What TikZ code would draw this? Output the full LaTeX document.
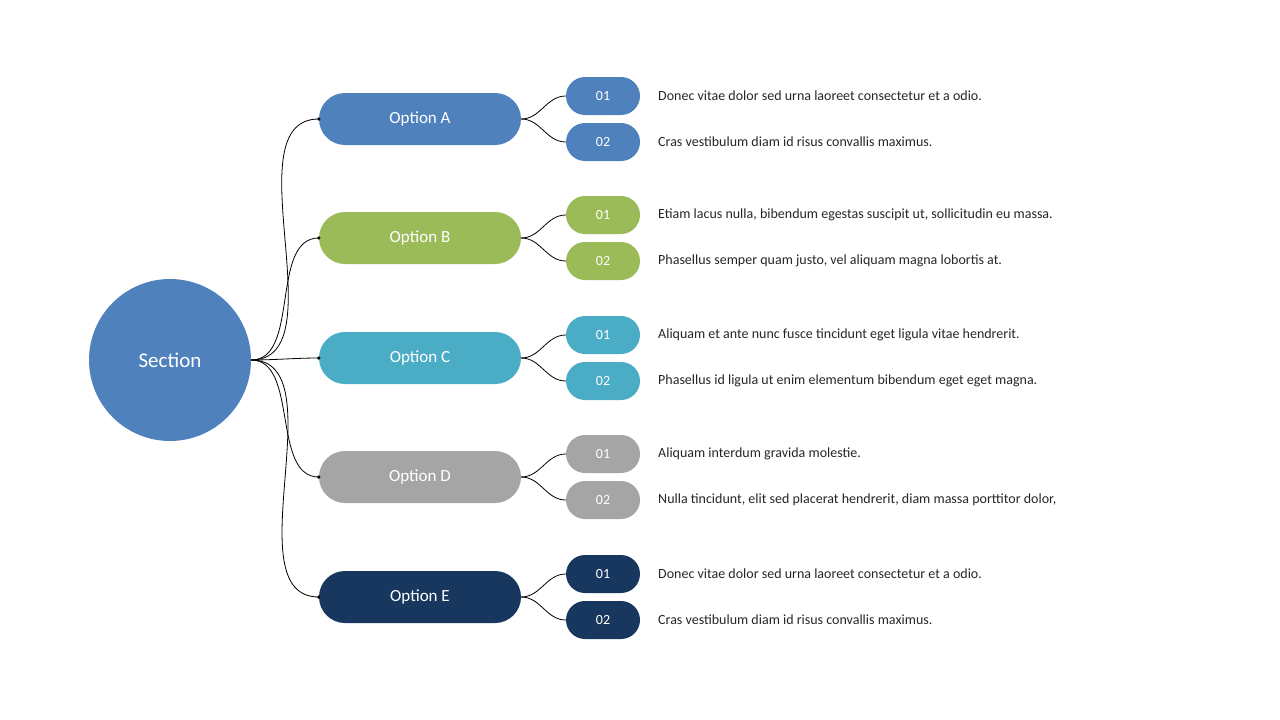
\documentclass[tikz,border=0pt]{standalone}
\usepackage{fontspec}
\setmainfont{Carlito}
\usetikzlibrary{positioning}
\definecolor{cA}{HTML}{4F81BD}
\definecolor{cB}{HTML}{9BBB59}
\definecolor{cC}{HTML}{4BACC6}
\definecolor{cD}{HTML}{A5A5A5}
\definecolor{cE}{HTML}{17375E}
\definecolor{txt}{HTML}{262626}
\tikzset{
	opt/.style={rounded corners=26pt,minimum width=202pt,minimum height=52pt,text=white,font=\fontsize{17}{20}\selectfont,inner sep=0pt},
	num/.style={rounded corners=19pt,minimum width=74pt,minimum height=38pt,text=white,font=\fontsize{14}{17}\selectfont,inner sep=0pt},
	desc/.style={anchor=west,text=txt,font=\fontsize{14}{17}\selectfont,inner sep=0pt},
	link/.style={black,line width=0.8pt}
}
\begin{document}
\begin{tikzpicture}[x=1pt,y=-1pt]
\useasboundingbox (0,0) rectangle (1280,720);

%Centre
\node[circle,fill=cA,minimum size=162pt,text=white,font=\fontsize{21}{25}\selectfont] (sec) at (170,360) {Section};

%Options
\foreach \n/\c/\y/\ta/\tb in {
	A/cA/119/{Donec vitae dolor sed urna laoreet consectetur et a odio.}/{Cras vestibulum diam id risus convallis maximus.},
	B/cB/238/{Etiam lacus nulla, bibendum egestas suscipit ut, sollicitudin eu massa.}/{Phasellus semper quam justo, vel aliquam magna lobortis at.},
	C/cC/358/{Aliquam et ante nunc fusce tincidunt eget ligula vitae hendrerit.}/{Phasellus id ligula ut enim elementum bibendum eget eget magna.},
	D/cD/477/{Aliquam interdum gravida molestie.}/{Nulla tincidunt, elit sed placerat hendrerit, diam massa porttitor dolor,},
	E/cE/597/{Donec vitae dolor sed urna laoreet consectetur et a odio.}/{Cras vestibulum diam id risus convallis maximus.}}
{
	\node[opt,fill=\c] (o\n) at (420,\y) {Option \n};
	\node[num,fill=\c] (o\n1) at (603,\y-23) {01};
	\node[num,fill=\c] (o\n2) at (603,\y+23) {02};
	\node[desc] (t\n1) at (658,\y-23) {\ta};
	\node[desc] (t\n2) at (658,\y+23) {\tb};
	\draw[link] (sec.east) to[out=0,in=180,looseness=0.9] (o\n.west);
	\fill (o\n.west) circle (1.8pt);
	\draw[link] (o\n.east) to[out=0,in=180] (o\n1.west);
	\draw[link] (o\n.east) to[out=0,in=180] (o\n2.west);
}
\end{tikzpicture}
\end{document}
